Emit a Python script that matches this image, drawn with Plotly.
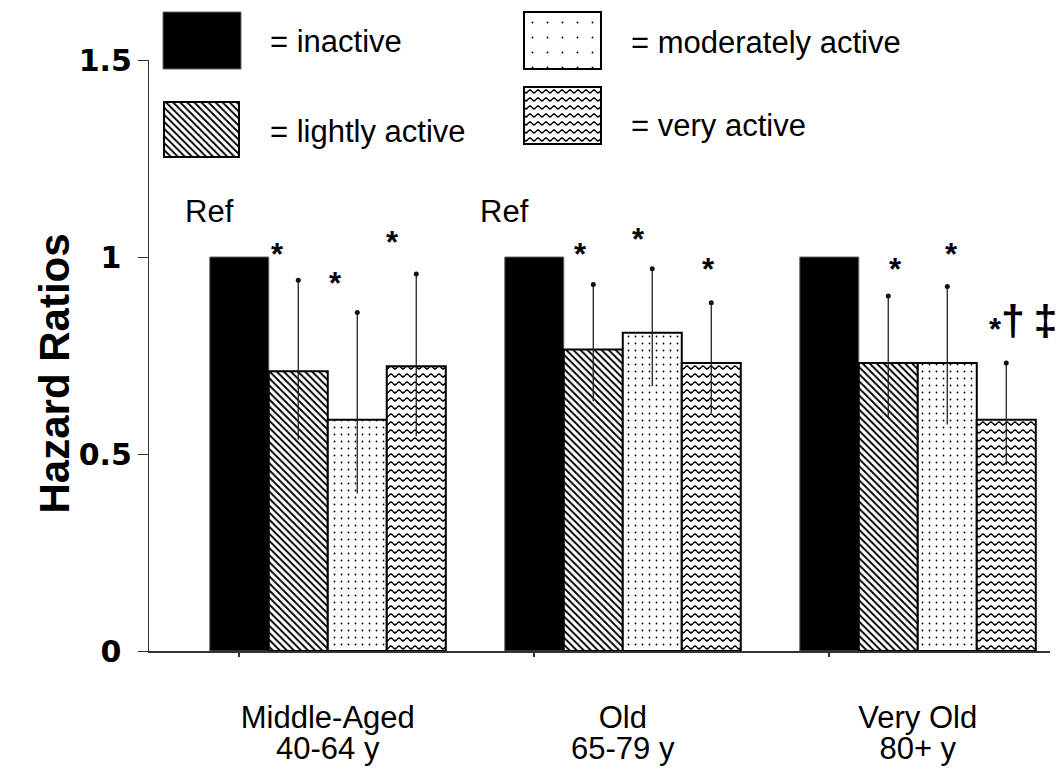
import plotly.graph_objects as go

# ---------------- data ----------------
group_names = ["Middle-Aged", "Old", "Very Old"]
age_ranges = ["40-64 y", "65-79 y", "80+ y"]
series = ["inactive", "lightly active", "moderately active", "very active"]

hr_inactive = [1.0, 1.0, 1.0]
hr_light = [0.710, 0.765, 0.731]
hr_moderate = [0.587, 0.808, 0.731]
hr_very = [0.723, 0.731, 0.587]

ci_low_light = [0.536, 0.634, 0.592]
ci_high_light = [0.941, 0.930, 0.901]
ci_low_moderate = [0.400, 0.672, 0.575]
ci_high_moderate = [0.859, 0.970, 0.925]
ci_low_very = [0.545, 0.604, 0.473]
ci_high_very = [0.957, 0.884, 0.731]

y_ticks = [0, 0.5, 1, 1.5]
y_tick_labels = ["0", "0.5", "1", "1.5"]

# significance marks: (group, series index, text, height in HR units, x offset in bar widths)
sig_marks = [
    (0, 1, "*", 1.021, -0.36), (0, 2, "*", 0.948, -0.37), (0, 3, "*", 1.051, -0.41),
    (1, 1, "*", 1.021, -0.22), (1, 2, "*", 1.059, -0.24), (1, 3, "*", 0.983, -0.05),
    (2, 1, "*", 0.983, 0.12), (2, 2, "*", 1.021, 0.08), (2, 3, "*", 0.831, -0.19),
]
dagger_marks = [(2, 3, "†\u2009‡", 0.841, -0.12)]
ref_marks = [(0, 0, "Ref", 1.115, -0.5), (1, 0, "Ref", 1.115, -0.5)]

# ---------------- layout geometry ----------------
W, H = 1060, 774
PLOT_L, PLOT_R, PLOT_T, PLOT_B = 149, 1050, 60, 651
SLOT = 59.0
X0 = -0.03
FONT = "Arial, Liberation Sans, sans-serif"
TICKFONT = "DejaVu Sans, Verdana, sans-serif"


def bar_x(g, k):
    return 5 * g + 1.5 + k


WAVE_PATH = "M0,2.6 Q2,0 4,2.6 T8,2.6 L8,4.4 Q6,7.0 4,4.4 Q2,1.8 0,4.4 Z"
try:
    go.bar.marker.Pattern(path=WAVE_PATH)
    wave_pattern = dict(path=WAVE_PATH, size=8, solidity=0.5, fgopacity=1,
                        fgcolor="black", bgcolor="white", fillmode="overlay")
except Exception:
    wave_pattern = dict(shape="-", size=6, solidity=0.3, fgopacity=1,
                        fgcolor="black", bgcolor="white", fillmode="overlay")

styles = [
    dict(color="black", line=dict(color="#666", width=1)),
    dict(color="white", line=dict(color="black", width=2),
         pattern=dict(shape="\\", size=5, solidity=0.38, fgcolor="black", fgopacity=1,
                      bgcolor="white", fillmode="overlay")),
    dict(color="white", line=dict(color="black", width=2),
         pattern=dict(shape=".", size=7, solidity=0.05, fgcolor="black", fgopacity=1,
                      bgcolor="white", fillmode="overlay")),
    dict(color="white", line=dict(color="black", width=2), pattern=wave_pattern),
]
legend_styles = [
    styles[0],
    styles[1],
    dict(color="white", line=dict(color="black", width=2),
         pattern=dict(shape=".", size=15, solidity=0.012, fgcolor="black", fgopacity=1,
                      bgcolor="white", fillmode="overlay")),
    styles[3],
]

values = [hr_inactive, hr_light, hr_moderate, hr_very]
lows = [None, ci_low_light, ci_low_moderate, ci_low_very]
highs = [None, ci_high_light, ci_high_moderate, ci_high_very]

fig = go.Figure()

for k, name in enumerate(series):
    xs = [bar_x(g, k) for g in range(len(group_names))]
    err = None
    if lows[k] is not None:
        err = dict(type="data", symmetric=False,
                   array=[h - v for h, v in zip(highs[k], values[k])],
                   arrayminus=[v - l for v, l in zip(values[k], lows[k])],
                   color="#222", thickness=1.3, width=0)
    fig.add_trace(go.Bar(x=xs, y=values[k], width=1.0, name=name,
                         marker=styles[k], error_y=err,
                         xaxis="x", yaxis="y", showlegend=False))
    if highs[k] is not None:
        fig.add_trace(go.Scatter(x=xs, y=highs[k], mode="markers",
                                 marker=dict(color="#111", size=5),
                                 xaxis="x", yaxis="y", showlegend=False,
                                 hoverinfo="skip"))

annotations = []
for g, k, txt, yv, dx in sig_marks:
    annotations.append(dict(x=bar_x(g, k) + dx, y=yv, xref="x", yref="y",
                            text=txt, showarrow=False, yshift=-6,
                            font=dict(family=FONT, size=31, color="black", weight="bold")))
for g, k, txt, yv, dx in dagger_marks:
    annotations.append(dict(x=bar_x(g, k) + dx, y=yv, xref="x", yref="y",
                            text=txt, showarrow=False, xanchor="left",
                            font=dict(family=FONT, size=43, color="black", weight="bold")))
for g, k, txt, yv, dx in ref_marks:
    annotations.append(dict(x=bar_x(g, k) + dx, y=yv, xref="x", yref="y",
                            text=txt, showarrow=False,
                            font=dict(family=FONT, size=31, color="black")))

# legend swatches (layout positions in pixels on a helper axis)
legend_boxes = [(163, 241, 12, 69), (164, 239, 102, 157), (524, 601, 12, 69), (524, 601, 87, 144)]
legend_text_pos = [(268, 41), (268, 131), (629, 42), (629, 125)]
for k, name in enumerate(series):
    x0, x1, y0, y1 = legend_boxes[k]
    fig.add_trace(go.Bar(x=[(x0 + x1) / 2], y=[y1 - y0], base=[y0], width=[x1 - x0],
                         marker=legend_styles[k], xaxis="x2", yaxis="y2",
                         showlegend=False, hoverinfo="skip"))
    tx, ty = legend_text_pos[k]
    annotations.append(dict(x=tx, y=ty, xref="x2", yref="y2", text="= " + name,
                            showarrow=False, xanchor="left", yanchor="middle",
                            font=dict(family=FONT, size=31, color="black")))

annotations.append(dict(x=28 / W, y=1 - 374 / H, xref="paper", yref="paper",
                        text="Hazard Ratios", textangle=-90, showarrow=False,
                        font=dict(family=FONT, size=42, color="black", weight="bold")))

pad = "\u00a0"
ytext = [t if len(t) > 1 else t + pad for t in y_tick_labels]

x_range = [X0, X0 + (PLOT_R - PLOT_L) / SLOT]
group_centers = [bar_x(g, 0) + 1.5 for g in range(len(group_names))]

fig.update_layout(
    width=W, height=H,
    margin=dict(l=0, r=0, t=0, b=0, autoexpand=False),
    paper_bgcolor="white", plot_bgcolor="rgba(0,0,0,0)",
    barmode="overlay", showlegend=False,
    font=dict(family=FONT, color="black"),
    xaxis=dict(domain=[PLOT_L / W, PLOT_R / W], range=x_range, automargin=False,
               tickvals=group_centers, ticktext=group_names, ticks="",
               ticklabelstandoff=38,
               tickfont=dict(family=FONT, size=31, color="black"),
               showline=True, linecolor="#333", linewidth=1.5,
               showgrid=False, zeroline=False, anchor="y",
               minor=dict(tickvals=[bar_x(g, 0) for g in range(len(group_names))],
                          ticks="outside", ticklen=4, tickcolor="#333", tickwidth=1.5)),
    xaxis3=dict(range=x_range, overlaying="x", anchor="y", side="bottom",
                automargin=False, tickvals=group_centers, ticktext=age_ranges,
                ticks="", ticklabelstandoff=76,
                tickfont=dict(family=FONT, size=31, color="black"),
                showline=False, showgrid=False, zeroline=False),
    yaxis=dict(domain=[1 - PLOT_B / H, 1 - PLOT_T / H], range=[0, 1.5], automargin=False,
               tickvals=y_ticks, ticktext=ytext, ticks="outside", ticklen=10,
               tickcolor="#333", tickwidth=1.3,
               tickfont=dict(family=TICKFONT, size=30, color="black", weight="bold"),
               showline=True, linecolor="#333", linewidth=1.3,
               showgrid=False, zeroline=False, anchor="x"),
    xaxis2=dict(domain=[0, 1], range=[0, W], visible=False, anchor="y2", automargin=False),
    yaxis2=dict(domain=[0, 1], range=[H, 0], visible=False, anchor="x2", automargin=False),
    annotations=annotations,
)

# an invisible trace so that the overlaying axis for the second label line is drawn
fig.add_trace(go.Scatter(x=group_centers, y=[0, 0, 0], xaxis="x3", yaxis="y",
                         mode="markers", marker=dict(opacity=0), showlegend=False,
                         hoverinfo="skip"))

fig.write_html("out.html")
